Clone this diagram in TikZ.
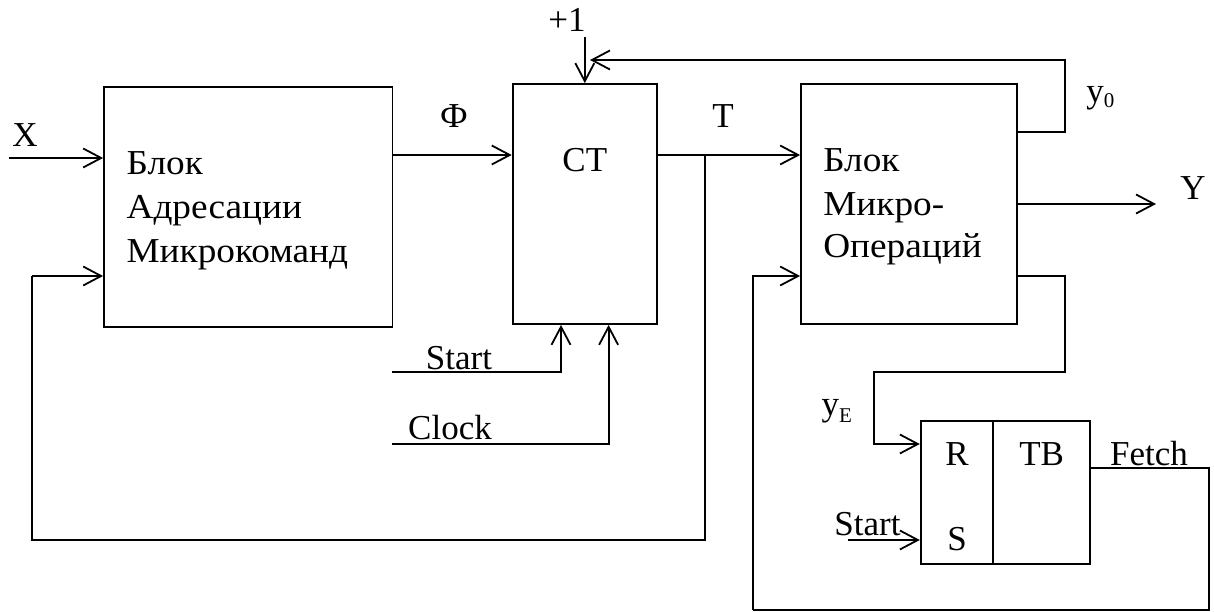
\documentclass[tikz,border=0pt]{standalone}
\usepackage{fontspec}
\setmainfont{Liberation Serif}
\usetikzlibrary{arrows.meta}
\newcommand{\cyr}[1]{\scalebox{1.065}[1]{#1}}
\begin{document}
\begin{tikzpicture}[x=1pt,y=-1pt,
  line width=1.8pt,
  txt/.style={inner sep=0pt,font=\fontsize{35}{42}\selectfont},
  blk/.style={draw,rectangle,inner sep=0pt,line width=1.8pt},
  arr/.style={-{Straight Barb[length=18pt,width=19pt,line width=1.8pt]}}]
\useasboundingbox (0,0) rectangle (1214,612);
% boxes
\node[blk,minimum width=288.5pt,minimum height=240pt] (A) at (248.25,207) {};
\node[blk,minimum width=144.4pt,minimum height=240pt] (CT) at (584.8,204) {};
\node[blk,minimum width=215.6pt,minimum height=240pt] (M) at (908.8,204) {};
\node[blk,minimum width=169pt,minimum height=143.3pt] (TB) at (1005.2,492.35) {};
\coordinate (div1) at (993,420.7);
\coordinate (div2) at (993,564);
\draw (div1) -- (div2);
% texts
\node[txt,anchor=base west] (a1) at (125.7,175) {\cyr{Блок}};
\node[txt,anchor=base west] (a2) at (125.7,218.5) {\cyr{Адресации}};
\node[txt,anchor=base west] (a3) at (125.7,262) {\cyr{Микрокоманд}};
\node[txt,anchor=base] (ctl) at (584.8,172) {CT};
\node[txt,anchor=base west] (m1) at (822.4,172) {\cyr{Блок}};
\node[txt,anchor=base west] (m2) at (822.4,215) {\cyr{Микро-}};
\node[txt,anchor=base west] (m3) at (822.4,258) {\cyr{Операций}};
\node[txt,anchor=base] (xl) at (25,147) {X};
\node[txt,anchor=base] (phil) at (454,128) {Ф};
\node[txt,anchor=base] (tl) at (723,128) {T};
\node[txt,anchor=base] (p1) at (567,32) {+1};
\node[txt,anchor=base west] (y0l) at (1085.5,103) {y\raisebox{-5pt}{\fontsize{21}{21}\selectfont 0}};
\node[txt,anchor=base] (yl) at (1193,200) {Y};
\node[txt,anchor=base] (st1) at (459,369) {Start};
\node[txt,anchor=base] (clk) at (450,439) {Clock};
\node[txt,anchor=base west] (yel) at (820.8,415) {y\raisebox{-7pt}{\fontsize{21}{21}\selectfont E}};
\node[txt,anchor=base] (rl) at (957,465) {R};
\node[txt,anchor=base] (sl) at (957,550) {S};
\node[txt,anchor=base] (tbl) at (1041.7,465) {TB};
\node[txt,anchor=base] (st2) at (867.5,535.7) {Start};
\node[txt,anchor=base] (fl) at (1149,465) {Fetch};
% helper coordinates
\coordinate (xin) at (9,158);
\coordinate (fy) at (0,155);
\coordinate (lowy) at (0,276);
\coordinate (jT) at (705,155);
\coordinate (jT2) at (705,540);
\coordinate (lb) at (32,540);
\coordinate (lt) at (32,276);
\coordinate (sa) at (392,372);
\coordinate (sb) at (561,372);
\coordinate (ca) at (392,444);
\coordinate (cb) at (608.6,444);
\coordinate (pin) at (584.8,37);
\coordinate (f1) at (1065,132);
\coordinate (f2) at (1065,60);
\coordinate (f3) at (590,60);
\coordinate (yend) at (1156,204);
\coordinate (mb) at (752.8,610);
\coordinate (mt) at (752.8,276);
\coordinate (br) at (1209,610);
\coordinate (brt) at (1209,468);
\coordinate (o1) at (1065,276);
\coordinate (o2) at (1065,372);
\coordinate (o3) at (873.6,372);
\coordinate (o4) at (873.6,444);
\coordinate (s2) at (848,540);
% connectors
\draw[arr] (xin) -- (xin -| A.west);
\draw[arr] (A.east |- fy) -- (CT.west |- fy);
\draw[arr] (CT.east |- fy) -- (M.west |- fy);
\draw (jT) -- (jT2) -- (lb) -- (lt);
\draw[arr] (lt) -- (A.west |- lowy);
\draw[arr] (sa) -- (sb) -- (sb |- CT.south);
\draw[arr] (ca) -- (cb) -- (cb |- CT.south);
\draw[arr] (pin) -- (CT.north);
\draw[arr] (M.east |- f1) -- (f1) -- (f2) -- (f3);
\draw[arr] (M.east) -- (yend);
\draw[arr] (mb) -- (mt) -- (M.west |- mt);
\draw (mb) -- (br) -- (brt) -- (TB.east |- brt);
\draw[arr] (M.east |- o1) -- (o1) -- (o2) -- (o3) -- (o4) -- (TB.west |- o4);
\draw[arr] (s2) -- (TB.west |- s2);
\end{tikzpicture}
\end{document}
